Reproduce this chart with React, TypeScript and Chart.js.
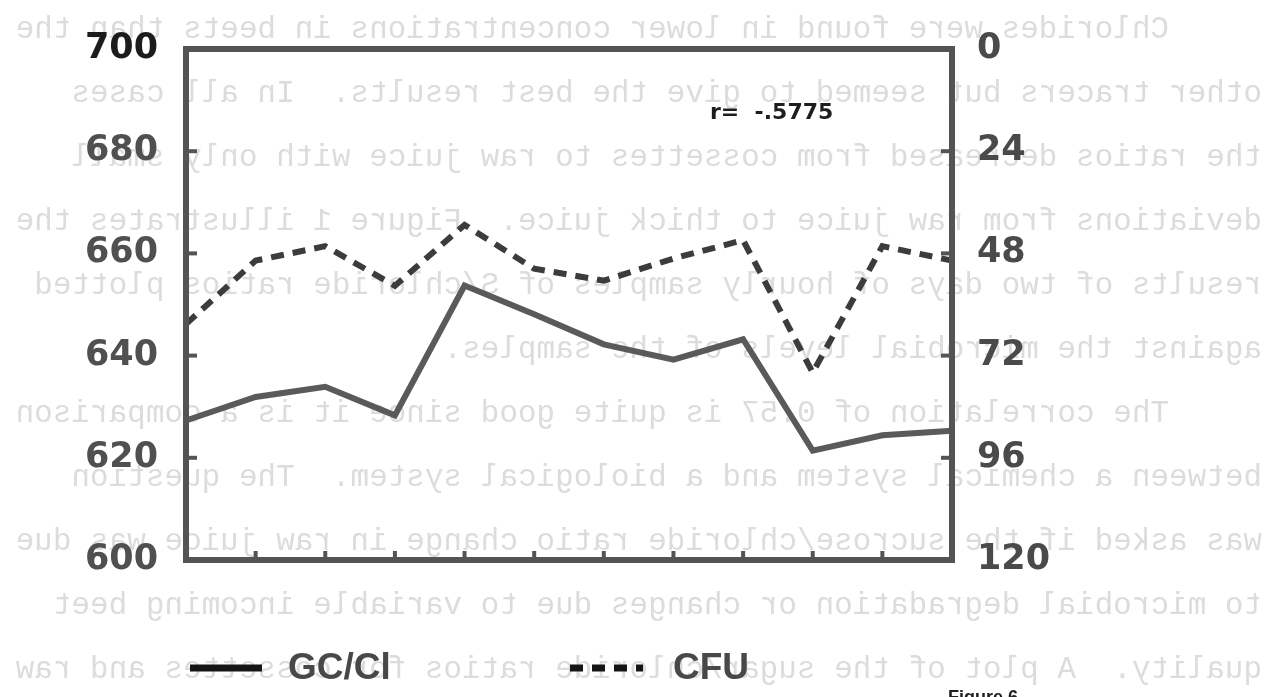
import React, { useEffect, useRef } from "react";
import { Chart, registerables } from "chart.js";

Chart.register(...registerables);

// ---- data ----
const samples = ["1", "2", "3", "4", "5", "6", "7", "8", "9", "10", "11", "12"];
const gcClValues = [627.3, 631.9, 633.9, 628.3, 653.7, 648.1, 642.2, 639.2, 643.2, 621.4, 624.4, 625.3];
const cfuValues = [64.6, 49.7, 46.3, 55.6, 41.3, 51.6, 54.4, 49.2, 44.9, 76.0, 46.3, 49.7];
const leftTickValues = [600, 620, 640, 660, 680, 700];
const rightTickValues = [0, 24, 48, 72, 96, 120];
const seriesNames = ["GC/Cl", "CFU"];
const correlationText = "r=  -.5775";
const figureCaption = "Figure 6";
const bleedLines = [
  "     Chlorides were found in lower concentrations in beets than the",
  "other tracers but seemed to give the best results.  In all cases",
  "the ratios decreased from cossettes to raw juice with only small",
  "deviations from raw juice to thick juice.  Figure 1 illustrates the",
  "results of two days of hourly samples of S/chloride ratios plotted",
  "against the microbial levels of the samples.",
  "     The correlation of 0.57 is quite good since it is a comparison",
  "between a chemical system and a biological system.  The question",
  "was asked if the sucrose/chloride ratio change in raw juice was due",
  "to microbial degradation or changes due to variable incoming beet",
  "quality.  A plot of the sugar/chloride ratios for cossettes and raw",
];

const W = 1273;
const H = 697;

const pagePlugin = {
  id: "pagePlugin",
  beforeDraw(chart: any) {
    const ctx = chart.ctx as CanvasRenderingContext2D;
    ctx.save();
    ctx.fillStyle = "#ffffff";
    ctx.fillRect(0, 0, W, H);
    // mirrored bleed-through text from the reverse page
    ctx.fillStyle = "#dcdcdc";
    ctx.font = '31px "Liberation Mono"';
    ctx.textBaseline = "middle";
    ctx.textAlign = "left";
    ctx.translate(1262, 0);
    ctx.scale(-1, 1);
    bleedLines.forEach((line, i) => {
      ctx.fillText(line, 0, 30 + i * 64);
    });
    ctx.restore();
  },
  afterDatasetsDraw(chart: any) {
    const ctx = chart.ctx as CanvasRenderingContext2D;
    const { left, right, top, bottom } = chart.chartArea;
    const yS = chart.scales.y;
    const y2S = chart.scales.y2;
    const xS = chart.scales.x;
    ctx.save();
    ctx.strokeStyle = "#545454";
    ctx.lineWidth = 6;
    ctx.strokeRect(left, top, right - left, bottom - top);
    ctx.lineWidth = 4;
    leftTickValues.slice(1, -1).forEach((v) => {
      const y = yS.getPixelForValue(v);
      ctx.beginPath();
      ctx.moveTo(left, y);
      ctx.lineTo(left + 11, y);
      ctx.stroke();
    });
    rightTickValues.slice(1, -1).forEach((v) => {
      const y = y2S.getPixelForValue(v);
      ctx.beginPath();
      ctx.moveTo(right - 11, y);
      ctx.lineTo(right, y);
      ctx.stroke();
    });
    samples.slice(1, -1).forEach((_, i) => {
      const x = xS.getPixelForValue(i + 1);
      ctx.beginPath();
      ctx.moveTo(x, bottom);
      ctx.lineTo(x, bottom - 9);
      ctx.stroke();
    });
    ctx.restore();
  },
  afterDraw(chart: any) {
    const ctx = chart.ctx as CanvasRenderingContext2D;
    ctx.save();
    // correlation text
    ctx.fillStyle = "#1e1e1e";
    ctx.font = 'bold 22px "DejaVu Sans"';
    ctx.textBaseline = "middle";
    ctx.textAlign = "left";
    ctx.fillText(correlationText, 710, 113);

    // legend
    const ly = 668;
    ctx.strokeStyle = "#151515";
    ctx.lineWidth = 7;
    ctx.beginPath();
    ctx.moveTo(190, ly);
    ctx.lineTo(262, ly);
    ctx.stroke();
    ctx.setLineDash([13, 9]);
    ctx.beginPath();
    ctx.moveTo(570, ly);
    ctx.lineTo(643, ly);
    ctx.stroke();
    ctx.setLineDash([]);
    ctx.fillStyle = "#484848";
    ctx.font = 'bold 37px "Liberation Sans"';
    ctx.fillText(seriesNames[0], 288, ly + 1);
    ctx.fillText(seriesNames[1], 673, ly + 1);

    // caption (cut off at the page bottom)
    ctx.fillStyle = "#222222";
    ctx.font = 'bold 18px "Liberation Sans"';
    ctx.textBaseline = "top";
    ctx.fillText(figureCaption, 948, 689);
    ctx.restore();
  },
};

export default function App() {
  const canvasRef = useRef<HTMLCanvasElement | null>(null);

  useEffect(() => {
    const canvas = canvasRef.current;
    if (!canvas) return;
    const chart = new Chart(canvas, {
      type: "line",
      data: {
        labels: samples,
        datasets: [
          {
            label: seriesNames[0],
            data: gcClValues,
            yAxisID: "y",
            borderColor: "#5a5a5a",
            borderWidth: 6,
            pointRadius: 0,
            tension: 0,
            fill: false,
          },
          {
            label: seriesNames[1],
            data: cfuValues,
            yAxisID: "y2",
            borderColor: "#3c3c3c",
            borderWidth: 6,
            borderDash: [13, 9],
            pointRadius: 0,
            tension: 0,
            fill: false,
          },
        ],
      },
      options: {
        responsive: false,
        animation: false,
        events: [],
        layout: { padding: { top: 20, bottom: 137, left: 0, right: 0 } },
        plugins: {
          legend: { display: false },
          tooltip: { enabled: false },
        },
        scales: {
          x: {
            type: "category",
            display: false,
            offset: false,
          },
          y: {
            position: "left",
            min: 600,
            max: 700,
            grid: { display: false, drawTicks: false },
            border: { display: false },
            afterBuildTicks: (s: any) => {
              s.ticks = leftTickValues.map((v) => ({ value: v }));
            },
            afterFit: (s: any) => {
              s.width = 186;
            },
            ticks: {
              padding: 28,
              autoSkip: false,
              font: { family: "DejaVu Sans", size: 35, weight: "bold" },
              color: (c: any) => (c.tick && c.tick.value === 700 ? "#1c1c1c" : "#505050"),
            },
          },
          y2: {
            position: "right",
            reverse: true,
            min: 0,
            max: 120,
            grid: { display: false, drawTicks: false },
            border: { display: false },
            afterBuildTicks: (s: any) => {
              s.ticks = rightTickValues.map((v) => ({ value: v }));
            },
            afterFit: (s: any) => {
              s.width = W - 952;
            },
            ticks: {
              padding: 25,
              autoSkip: false,
              font: { family: "DejaVu Sans", size: 35, weight: "bold" },
              color: "#4a4a4a",
            },
          },
        },
      } as any,
      plugins: [pagePlugin],
    });
    return () => chart.destroy();
  }, []);

  return (
    <div style={{ position: "fixed", left: 0, top: 0, width: W, height: H, background: "#fff" }}>
      <canvas ref={canvasRef} width={W} height={H} style={{ display: "block", width: W, height: H }} />
    </div>
  );
}
